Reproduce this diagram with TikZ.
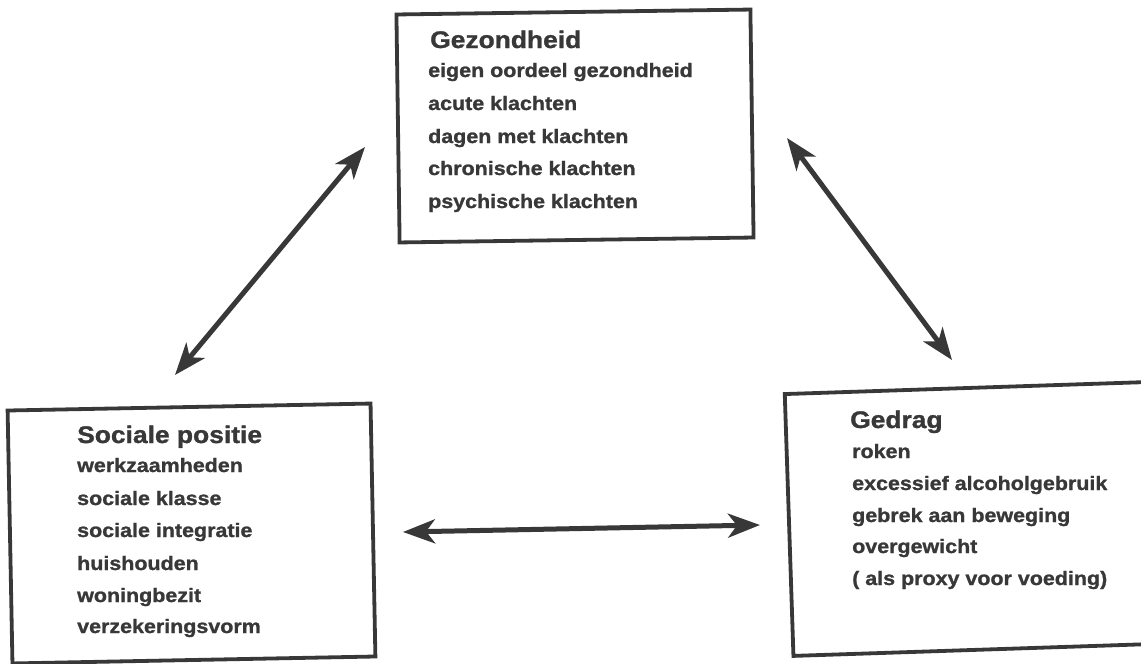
\documentclass[tikz,border=0pt]{standalone}
\usepackage{fontspec}
\setmainfont{Liberation Sans}[FakeStretch=1.1, BoldFeatures={FakeBold=1.2}]
\usetikzlibrary{arrows.meta}
\definecolor{ink}{rgb}{0.22,0.22,0.22}
\tikzset{
  box/.style={draw=ink, line width=3.8pt, inner sep=0pt},
  ttl/.style={anchor=base west, inner sep=0pt, text=ink, font=\fontsize{24}{28}\selectfont\bfseries},
  itm/.style={anchor=base west, inner sep=0pt, text=ink, font=\fontsize{19.5}{24}\selectfont\bfseries},
  biarrow/.style={draw=ink, line width=5pt,
    {Stealth[length=32pt,width=24pt,inset=9pt]}-{Stealth[length=32pt,width=24pt,inset=9pt]}}
}
\begin{document}
\begin{tikzpicture}[x=1pt,y=-1pt]
\useasboundingbox (0,0) rectangle (1141,664);
\fill[white] (0,0) rectangle (1141,664);
% boxes
\node[box, minimum width=354pt, minimum height=228pt, rotate=0.8] (gbox) at (575,126) {};
\node[box, minimum width=363pt, minimum height=253pt, rotate=1.1] (sbox) at (191.5,533.5) {};
\node[box, minimum width=361pt, minimum height=262pt, rotate=1.9] (dbox) at (969.5,519) {};
% Gezondheid
\node[ttl] (gt) at (430,48) {Gezondheid};
\node[itm] (g1) at (428,77) {eigen oordeel gezondheid};
\node[itm] (g2) at (428,110) {acute klachten};
\node[itm] (g3) at (428,143) {dagen met klachten};
\node[itm] (g4) at (428,175) {chronische klachten};
\node[itm] (g5) at (428,208) {psychische klachten};
% Sociale positie
\node[ttl] (st) at (77,443) {Sociale positie};
\node[itm] (s1) at (77,472) {werkzaamheden};
\node[itm] (s2) at (77,505) {sociale klasse};
\node[itm] (s3) at (77,537) {sociale integratie};
\node[itm] (s4) at (77,570) {huishouden};
\node[itm] (s5) at (77,602) {woningbezit};
\node[itm] (s6) at (77,633) {verzekeringsvorm};
% Gedrag
\node[ttl] (dt) at (850,428) {Gedrag};
\node[itm] (d1) at (852,458) {roken};
\node[itm] (d2) at (852,490) {excessief alcoholgebruik};
\node[itm] (d3) at (852,522) {gebrek aan beweging};
\node[itm] (d4) at (852,553) {overgewicht};
\node[itm] (d5) at (852,585) {( als proxy voor voeding)};
% arrow end points
\coordinate (a1g) at (365,147);
\coordinate (a1s) at (175,375);
\coordinate (a2g) at (787,138);
\coordinate (a2d) at (952,360);
\coordinate (a3s) at (403,532);
\coordinate (a3d) at (760,525);
\draw[biarrow] (a1s) -- (a1g);
\draw[biarrow] (a2g) -- (a2d);
\draw[biarrow] (a3s) -- (a3d);
\end{tikzpicture}
\end{document}
